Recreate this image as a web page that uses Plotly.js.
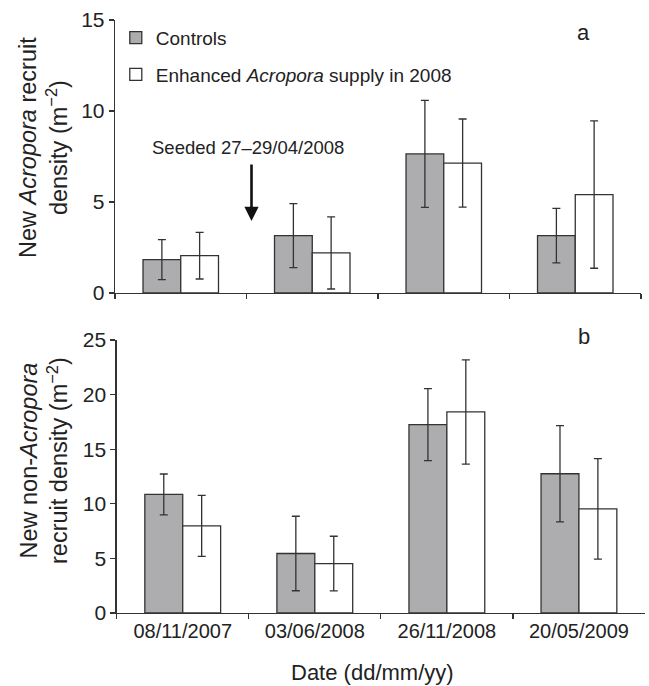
<!DOCTYPE html>
<html>
<head>
<meta charset="utf-8">
<script src="https://cdn.plot.ly/plotly-3.0.1.min.js"></script>
<style>html,body{margin:0;padding:0;background:#fff;}</style>
</head>
<body>
<div id="chart" style="width:649px;height:686px;"></div>
<script>
// Categories (sampling dates)
const dates = ["08/11/2007", "03/06/2008", "26/11/2008", "20/05/2009"];

// Panel a: new Acropora recruit density (m^-2)
const acroControls = [1.83, 3.15, 7.64, 3.15];
const acroControlsErr = [1.10, 1.76, 2.94, 1.50];
const acroEnhanced = [2.05, 2.20, 7.14, 5.41];
const acroEnhancedErr = [1.28, 1.98, 2.42, 4.05];

// Panel b: new non-Acropora recruit density (m^-2)
const nonControls = [10.86, 5.45, 17.25, 12.75];
const nonControlsErr = [1.87, 3.41, 3.30, 4.40];
const nonEnhanced = [7.98, 4.53, 18.41, 9.54];
const nonEnhancedErr = [2.80, 2.50, 4.77, 4.60];

const seriesNames = ["Controls", "Enhanced <i>Acropora</i> supply in 2008"];

const grayFill = "#adadaf";
const edge = "#333333";
const FONT = "Liberation Sans, Arial, Helvetica, sans-serif";

function barTrace(x, y, err, name, fill, xa, ya, showLegend, group) {
  return {
    type: "bar", x: x, y: y, name: name,
    xaxis: xa, yaxis: ya,
    showlegend: showLegend, legendgroup: group,
    marker: {color: fill, line: {color: edge, width: 1.3}},
    error_y: {type: "data", array: err, symmetric: true, visible: true,
              color: edge, thickness: 1.3, width: 4},
    hoverinfo: "skip"
  };
}

const data = [
  barTrace(dates, acroControls, acroControlsErr, seriesNames[0], grayFill, "x", "y", true, "g1"),
  barTrace(dates, acroEnhanced, acroEnhancedErr, seriesNames[1], "#ffffff", "x", "y", true, "g2"),
  barTrace(dates, nonControls, nonControlsErr, seriesNames[0], grayFill, "x2", "y2", false, "g1"),
  barTrace(dates, nonEnhanced, nonEnhancedErr, seriesNames[1], "#ffffff", "x2", "y2", false, "g2")
];

const axisCommon = {
  showgrid: false, zeroline: false, showline: true,
  linecolor: edge, linewidth: 1.3,
  ticks: "outside", ticklen: 5, tickwidth: 1.3, tickcolor: edge,
  tickfont: {family: FONT, size: 20, color: "#222"}
};
const yTickFont = {family: FONT, size: 21, color: "#222"};

const layout = {
  width: 649, height: 686,
  margin: {l: 0, r: 0, t: 0, b: 0},
  paper_bgcolor: "#ffffff", plot_bgcolor: "rgba(0,0,0,0)",
  barmode: "group", bargap: 0.426, bargroupgap: 0,
  font: {family: FONT, color: "#222"},
  xaxis: Object.assign({}, axisCommon, {
    type: "category", domain: [0.1772, 0.9877], anchor: "y",
    tickson: "boundaries", showticklabels: false, range: [-0.5, 3.5]
  }),
  yaxis: Object.assign({}, axisCommon, {
    domain: [0.5729, 0.9708], anchor: "x", range: [0, 15], tickvals: [0, 5, 10, 15],
    tickfont: yTickFont
  }),
  xaxis2: Object.assign({}, axisCommon, {
    type: "category", domain: [0.1798, 0.9938], anchor: "y2",
    tickson: "boundaries", range: [-0.5, 3.5]
  }),
  yaxis2: Object.assign({}, axisCommon, {
    domain: [0.1064, 0.5044], anchor: "x2", range: [0, 25], tickvals: [0, 5, 10, 15, 20, 25],
    tickfont: yTickFont
  }),
  legend: {
    x: 0.1784, xanchor: "left", y: 0.9725, yanchor: "top",
    bgcolor: "rgba(0,0,0,0)", borderwidth: 0,
    font: {family: FONT, size: 19, color: "#222"},
    traceorder: "grouped", tracegroupgap: 9
  },
  annotations: [
    {text: "New <i>Acropora</i> recruit<br>density (m<sup>−2</sup>)", xref: "paper", yref: "paper",
     x: 0.0662, y: 0.7857, xanchor: "center", yanchor: "middle", textangle: -90,
     showarrow: false, font: {family: FONT, size: 23.5, color: "#222"}},
    {text: "New non-<i>Acropora</i><br>recruit density (m<sup>−2</sup>)", xref: "paper", yref: "paper",
     x: 0.0677, y: 0.3294, xanchor: "center", yanchor: "middle", textangle: -90,
     showarrow: false, font: {family: FONT, size: 23.5, color: "#222"}},
    {text: "Date (dd/mm/yy)", xref: "paper", yref: "paper",
     x: 0.5747, y: 0.0204, xanchor: "center", yanchor: "middle",
     showarrow: false, font: {family: FONT, size: 22, color: "#222"}},
    {text: "a", xref: "paper", yref: "paper", x: 583 / 649, y: (686 - 33) / 686,
     xanchor: "center", yanchor: "middle", showarrow: false,
     font: {family: FONT, size: 22, color: "#222"}},
    {text: "b", xref: "paper", yref: "paper", x: 584 / 649, y: (686 - 336) / 686,
     xanchor: "center", yanchor: "middle", showarrow: false,
     font: {family: FONT, size: 22, color: "#222"}},
    {text: "Seeded 27–29/04/2008", xref: "paper", yref: "paper",
     x: 248 / 649, y: (686 - 147.5) / 686, xanchor: "center", yanchor: "middle",
     showarrow: false, font: {family: FONT, size: 18.5, color: "#222"}},
    {text: "", xref: "paper", yref: "paper",
     x: 251.5 / 649, y: (686 - 221) / 686, ax: 0, ay: -58, axref: "pixel", ayref: "pixel",
     showarrow: true, arrowhead: 2, arrowsize: 1.1, arrowwidth: 2.6, arrowcolor: "#111"}
  ]
};

Plotly.newPlot("chart", data, layout, {staticPlot: true, displayModeBar: false});
</script>
</body>
</html>
